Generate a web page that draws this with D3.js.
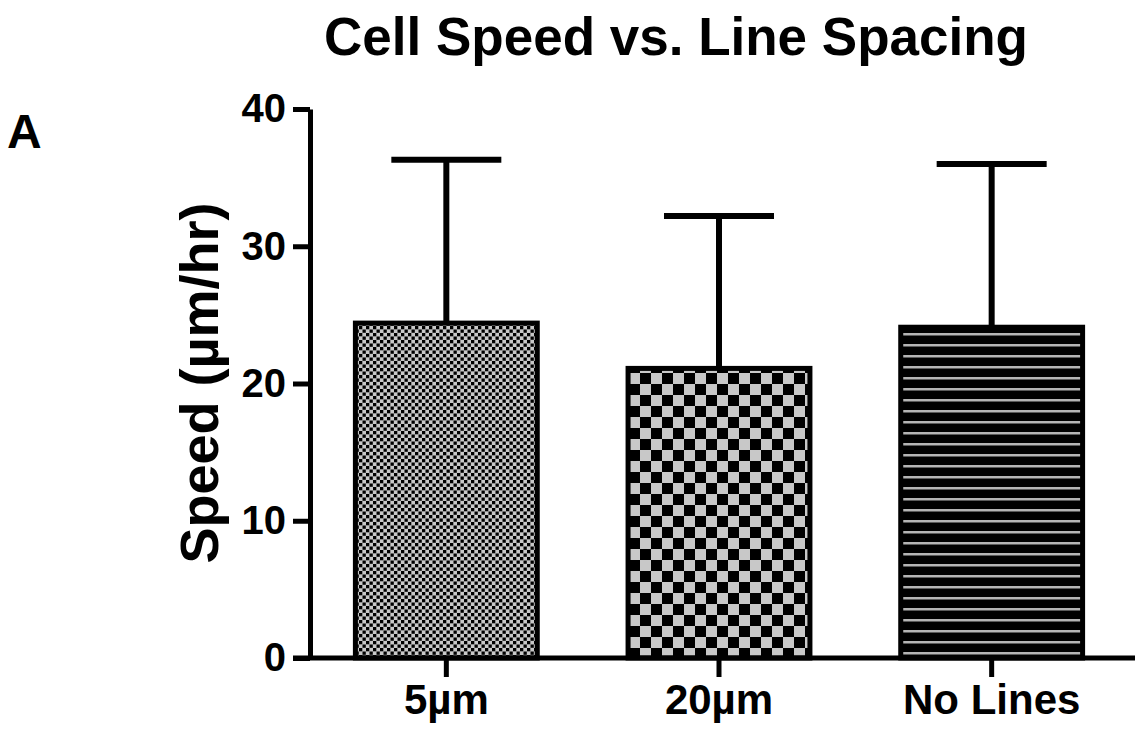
<!DOCTYPE html>
<html>
<head>
    <meta charset="utf-8" />
    <title>Cell Speed vs. Line Spacing</title>
    <style>
        body { margin: 0; background: #fff; }
        text { font-family: "Liberation Sans", Arial, sans-serif; font-weight: bold; fill: #000; }
    </style>
    <script type="text/javascript" src="https://cdn.jsdelivr.net/npm/d3@7/dist/d3.min.js"></script>
</head>
<body>
    <script type="text/javascript">
        // data
        const categories = ["5\u00b5m", "20\u00b5m", "No Lines"];
        const means = [24.4, 21.1, 24.1];
        const sds = [11.9, 11.1, 11.9];
        const patterns = ["fine", "coarse", "lines"];
        const yTicks = [0, 10, 20, 30, 40];

        const margin = { top: 109, right: 7, bottom: 72, left: 310 };
        let width = 1135 - margin.left - margin.right,
            height = 730 - margin.top - margin.bottom,
            tickLen = 17,
            barFrac = 0.667,
            capWidth = 110;

        let x = d3.scaleBand().domain(categories).range([0, width]);
        let y = d3.scaleLinear().domain([0, 40]).range([height, 0]);

        let root = d3.select('body')
            .append('svg')
                .attr('width', 1135)
                .attr('height', 730);

        // fill patterns
        let defs = root.append('defs');
        let p1 = defs.append('pattern').attr('id', 'fine')
            .attr('patternUnits', 'userSpaceOnUse').attr('width', 7).attr('height', 7);
        p1.append('rect').attr('width', 7).attr('height', 7).attr('fill', '#c8c8c8');
        p1.append('rect').attr('width', 3.3).attr('height', 3.3).attr('fill', '#000');
        p1.append('rect').attr('x', 3.5).attr('y', 3.5).attr('width', 3.3).attr('height', 3.3).attr('fill', '#000');

        let p2 = defs.append('pattern').attr('id', 'coarse')
            .attr('patternUnits', 'userSpaceOnUse').attr('width', 22).attr('height', 22);
        p2.append('rect').attr('width', 22).attr('height', 22).attr('fill', '#c8c8c8');
        p2.append('rect').attr('width', 11).attr('height', 11).attr('fill', '#000');
        p2.append('rect').attr('x', 11).attr('y', 11).attr('width', 11).attr('height', 11).attr('fill', '#000');

        let p3 = defs.append('pattern').attr('id', 'lines')
            .attr('patternUnits', 'userSpaceOnUse').attr('width', 11).attr('height', 11);
        p3.append('rect').attr('width', 11).attr('height', 11).attr('fill', '#000');
        p3.append('rect').attr('y', 4).attr('width', 11).attr('height', 2.5).attr('fill', '#b4b4b4');

        let svg = root.append('g')
            .attr('transform', 'translate(' + margin.left + ', ' + margin.top + ')');

        // bars
        let bw = x.bandwidth() * barFrac;
        svg.selectAll('.bar')
            .data(categories)
            .enter().append('rect')
                .attr('class', 'bar')
                .attr('x', d => x(d) + (x.bandwidth() - bw) / 2)
                .attr('y', (d, i) => y(means[i]))
                .attr('width', bw)
                .attr('height', (d, i) => y(0) - y(means[i]))
                .attr('fill', (d, i) => 'url(#' + patterns[i] + ')')
                .attr('stroke', '#000')
                .attr('stroke-width', 5);

        // error bars (upper only)
        let cx = d => x(d) + x.bandwidth() / 2;
        svg.selectAll('.stem')
            .data(categories)
            .enter().append('line')
                .attr('x1', cx).attr('x2', cx)
                .attr('y1', (d, i) => y(means[i]))
                .attr('y2', (d, i) => y(means[i] + sds[i]))
                .attr('stroke', '#000').attr('stroke-width', 6);
        svg.selectAll('.cap')
            .data(categories)
            .enter().append('line')
                .attr('x1', d => cx(d) - capWidth / 2)
                .attr('x2', d => cx(d) + capWidth / 2)
                .attr('y1', (d, i) => y(means[i] + sds[i]))
                .attr('y2', (d, i) => y(means[i] + sds[i]))
                .attr('stroke', '#000').attr('stroke-width', 6);

        // y axis
        let yAxis = svg.append('g')
            .call(d3.axisLeft(y).tickValues(yTicks).tickSize(tickLen).tickSizeOuter(0).tickPadding(7));
        yAxis.select('.domain').attr('stroke-width', 5);
        yAxis.selectAll('.tick line').attr('stroke-width', 5);
        yAxis.selectAll('.tick text').style('font-size', '40px');

        // x axis
        let xAxis = svg.append('g')
            .attr('transform', 'translate(0, ' + height + ')')
            .call(d3.axisBottom(x).tickSize(19).tickSizeOuter(0).tickPadding(7));
        xAxis.select('.domain').remove();
        xAxis.append('line')
            .attr('x1', -tickLen).attr('x2', width + margin.right)
            .attr('stroke', '#000').attr('stroke-width', 5);
        xAxis.selectAll('.tick line').attr('stroke-width', 5);
        xAxis.selectAll('.tick text').style('font-size', '42px');

        // y label
        svg.append('text')
            .attr('transform', 'rotate(-90)')
            .attr('x', -274)
            .attr('y', -92)
            .style('text-anchor', 'middle')
            .style('font-size', '54px')
            .text('Speed (\u00b5m/hr)');

        // title and panel letter
        root.append('text')
            .attr('x', 676)
            .attr('y', 55)
            .style('text-anchor', 'middle')
            .style('font-size', '53px')
            .text('Cell Speed vs. Line Spacing');
        root.append('text')
            .attr('x', 7)
            .attr('y', 148)
            .style('font-size', '48px')
            .text('A');
    </script>
</body>
</html>
